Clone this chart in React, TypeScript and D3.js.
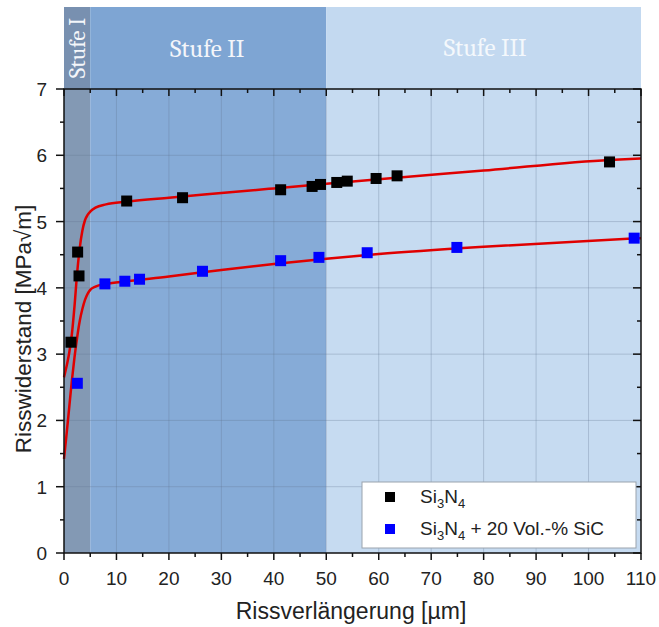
import React from "react";
import * as d3 from "d3";

const xTicks = [0, 10, 20, 30, 40, 50, 60, 70, 80, 90, 100, 110];
const yTicks = [0, 1, 2, 3, 4, 5, 6, 7];

const si3n4X = [1.33, 2.6, 2.86, 11.95, 22.6, 41.3, 47.3, 48.9, 52.0, 54.0, 59.5, 63.5, 104.0];
const si3n4Y = [3.18, 4.54, 4.18, 5.31, 5.36, 5.48, 5.53, 5.56, 5.59, 5.61, 5.65, 5.69, 5.9];

const sicX = [2.54, 7.8, 11.6, 14.4, 26.4, 41.3, 48.6, 57.8, 74.9, 108.7];
const sicY = [2.56, 4.06, 4.1, 4.13, 4.25, 4.41, 4.46, 4.53, 4.61, 4.75];

const fit1X = [0, 0.5, 1, 1.5, 2, 2.5, 3, 3.5, 4, 4.5, 5, 6, 8, 12, 20, 30, 40, 50, 60, 80, 104, 110];
const fit1Y = [2.65, 2.82, 3.02, 3.3, 3.72, 4.22, 4.6, 4.86, 5.02, 5.1, 5.15, 5.21, 5.26, 5.3, 5.36, 5.43, 5.5, 5.57, 5.64, 5.77, 5.93, 5.95];

const fit2X = [0, 0.5, 1, 1.5, 2, 2.5, 3, 3.5, 4, 4.5, 5, 6, 8, 12, 20, 30, 40, 50, 60, 80, 110];
const fit2Y = [1.42, 1.8, 2.2, 2.6, 2.95, 3.25, 3.5, 3.68, 3.82, 3.91, 3.97, 4.02, 4.06, 4.1, 4.17, 4.27, 4.36, 4.44, 4.51, 4.62, 4.75];

const stages = ["Stufe I", "Stufe II", "Stufe III"];
const stageStart = [0, 5, 50];
const stageEnd = [5, 50, 110];

const L = 64, R = 641, T = 89, B = 553, HEAD_TOP = 7;

export default function App() {
  const x = d3.scaleLinear().domain([0, 110]).range([L, R]);
  const y = d3.scaleLinear().domain([0, 7]).range([B, T]);
  const line = d3
    .line<[number, number]>()
    .x((d) => x(d[0]))
    .y((d) => y(d[1]))
    .curve(d3.curveMonotoneX);
  const fit1 = fit1X.map((v, i) => [v, fit1Y[i]] as [number, number]);
  const fit2 = fit2X.map((v, i) => [v, fit2Y[i]] as [number, number]);
  const headColors = ["#7890b0", "#7ea5d3", "#c3d9f0"];
  const plotColors = ["#8399b4", "#86abd7", "#c6dbf1"];
  const xMinor = d3.range(5, 110, 10);
  const yMinor = d3.range(0.5, 7, 1);
  const font = "Arial, 'Liberation Sans', sans-serif";
  const serif = "Cambria, 'Liberation Serif', 'DejaVu Serif', serif";
  const ms = 11;

  return (
    <svg
      width={659}
      height={627}
      style={{ position: "absolute", left: 0, top: 0, background: "#fff" }}
    >
      {stages.map((s, i) => (
        <rect
          key={"h" + i}
          x={x(stageStart[i])}
          y={HEAD_TOP}
          width={x(stageEnd[i]) - x(stageStart[i])}
          height={T - HEAD_TOP}
          fill={headColors[i]}
        />
      ))}
      {stages.map((s, i) => (
        <rect
          key={"p" + i}
          x={x(stageStart[i])}
          y={T}
          width={x(stageEnd[i]) - x(stageStart[i])}
          height={B - T}
          fill={plotColors[i]}
        />
      ))}
      <text
        transform={`translate(${x(2.5) + 8},${(HEAD_TOP + T) / 2}) rotate(-90)`}
        textAnchor="middle"
        fill="#f4f6fa"
        fontFamily={serif}
        fontSize={23}
      >
        {stages[0]}
      </text>
      <text x={x(27.3)} y={57} textAnchor="middle" fill="#f4f6fa" fontFamily={serif} fontSize={25}>
        {stages[1]}
      </text>
      <text x={x(80.3)} y={56} textAnchor="middle" fill="#f4f8fc" fontFamily={serif} fontSize={25}>
        {stages[2]}
      </text>

      {xTicks.slice(1, -1).map((t) => (
        <line key={"gx" + t} x1={x(t)} x2={x(t)} y1={T} y2={B} stroke="#5f7590" strokeOpacity={0.3} strokeWidth={1} />
      ))}
      {yTicks.slice(1, -1).map((t) => (
        <line key={"gy" + t} x1={L} x2={R} y1={y(t)} y2={y(t)} stroke="#5f7590" strokeOpacity={0.3} strokeWidth={1} />
      ))}

      <path d={line(fit1) || ""} fill="none" stroke="#e00000" strokeWidth={2.5} />
      <path d={line(fit2) || ""} fill="none" stroke="#e00000" strokeWidth={2.5} />

      {si3n4X.map((v, i) => (
        <rect key={"a" + i} x={x(v) - ms / 2} y={y(si3n4Y[i]) - ms / 2} width={ms} height={ms} fill="#000" />
      ))}
      {sicX.map((v, i) => (
        <rect key={"b" + i} x={x(v) - ms / 2} y={y(sicY[i]) - ms / 2} width={ms} height={ms} fill="#0000ff" />
      ))}

      <rect x={L} y={T} width={R - L} height={B - T} fill="none" stroke="#111" strokeWidth={1.5} />

      {xTicks.map((t) => (
        <g key={"xt" + t}>
          <line x1={x(t)} x2={x(t)} y1={B} y2={B + 7} stroke="#111" strokeWidth={1.5} />
          <line x1={x(t)} x2={x(t)} y1={T} y2={T + 7} stroke="#111" strokeWidth={1.5} />
          <text x={x(t)} y={585} textAnchor="middle" fontFamily={font} fontSize={19} fill="#222">
            {t}
          </text>
        </g>
      ))}
      {xMinor.map((t) => (
        <g key={"xm" + t}>
          <line x1={x(t)} x2={x(t)} y1={B} y2={B + 4} stroke="#111" strokeWidth={1.5} />
          <line x1={x(t)} x2={x(t)} y1={T} y2={T + 4} stroke="#111" strokeWidth={1.5} />
        </g>
      ))}
      {yTicks.map((t) => (
        <g key={"yt" + t}>
          <line x1={L - 8} x2={L} y1={y(t)} y2={y(t)} stroke="#111" strokeWidth={1.5} />
          <line x1={R - 8} x2={R} y1={y(t)} y2={y(t)} stroke="#111" strokeWidth={1.5} />
          <text x={47} y={y(t) + 7} textAnchor="end" fontFamily={font} fontSize={19} fill="#222">
            {t}
          </text>
        </g>
      ))}
      {yMinor.map((t) => (
        <g key={"ym" + t}>
          <line x1={L - 4} x2={L} y1={y(t)} y2={y(t)} stroke="#111" strokeWidth={1.5} />
          <line x1={R - 4} x2={R} y1={y(t)} y2={y(t)} stroke="#111" strokeWidth={1.5} />
        </g>
      ))}

      <text x={351} y={619} textAnchor="middle" fontFamily={font} fontSize={23} fill="#222">
        Rissverlängerung [µm]
      </text>
      <text
        transform={`translate(31,${329}) rotate(-90)`}
        textAnchor="middle"
        fontFamily={font}
        fontSize={22.5}
        fill="#222"
      >
        Risswiderstand [MPa√m]
      </text>

      <rect x={362} y={482} width={274} height={66} fill="#ffffff" stroke="#9aa3ad" strokeWidth={1} />
      <rect x={390 - 5} y={497 - 5} width={10} height={10} fill="#000" />
      <rect x={390 - 5} y={529 - 5} width={10} height={10} fill="#0000ff" />
      <text x={420} y={503} fontFamily={font} fontSize={19} fill="#222">
        Si<tspan fontSize={13} dy={5}>3</tspan>
        <tspan dy={-5}>N</tspan>
        <tspan fontSize={13} dy={5}>4</tspan>
      </text>
      <text x={420} y={535} fontFamily={font} fontSize={19} fill="#222">
        Si<tspan fontSize={13} dy={5}>3</tspan>
        <tspan dy={-5}>N</tspan>
        <tspan fontSize={13} dy={5}>4</tspan>
        <tspan dy={-5}> + 20 Vol.-% SiC</tspan>
      </text>
    </svg>
  );
}
